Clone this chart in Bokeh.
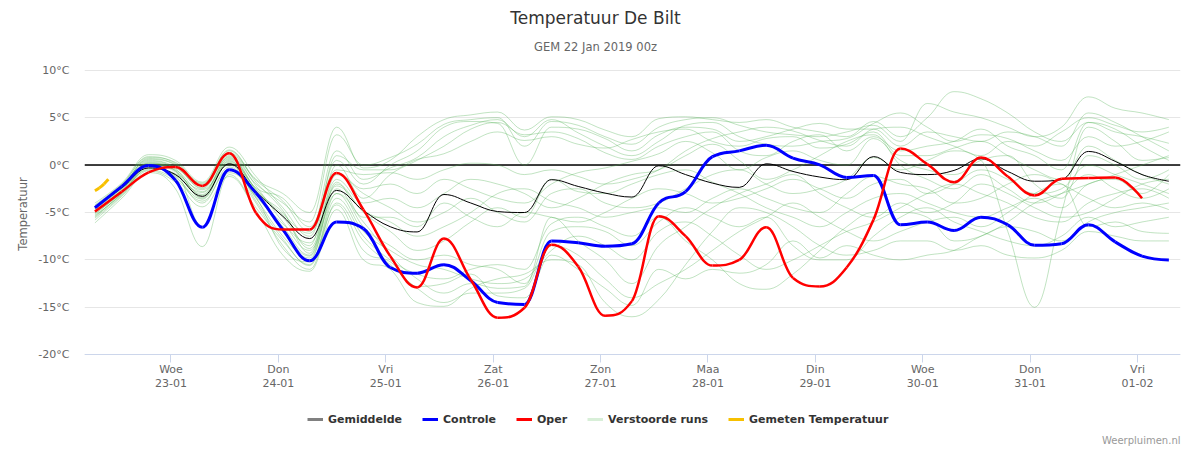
import math
from bokeh.plotting import figure
from bokeh.models import (Range1d, FixedTicker, PrintfTickFormatter, Span, Label,
                          Legend, LegendItem, Title)
from bokeh.embed import file_html
from bokeh.resources import INLINE

FONT = "DejaVu Sans"

# time axis: hours relative to Wed 23-01 00:00
hours = [-17, -11, -5, 1, 7, 13, 19, 25, 31, 37, 43, 49, 55, 61, 67, 73, 79, 85, 91, 97,
         103, 109, 115, 121, 127, 133, 139, 145, 151, 157, 163, 169, 175, 181, 187, 193,
         199, 205, 211, 217, 223]
oper_hours = hours[:40]

day_ticks = [0, 24, 48, 72, 96, 120, 144, 168, 192, 216]
day_labels = ["Woe\n23-01", "Don\n24-01", "Vri\n25-01", "Zat\n26-01", "Zon\n27-01",
              "Maa\n28-01", "Din\n29-01", "Woe\n30-01", "Don\n31-01", "Vri\n01-02"]
temp_ticks = [-20, -15, -10, -5, 0, 5, 10]

gemiddelde = [-4.5, -2.4, -0.3, -1.0, -3.3, 0.14, -2.8, -5.4, -7.75, -2.67, -4.8,
              -6.5, -7.05, -3.1, -4.0, -4.9, -5.0, -1.54, -2.25, -2.95, -3.37,
              -0.07, -1.0, -1.9, -2.35, 0.14, -0.67, -1.26, -1.54, 0.9, -0.77,
              -1.0, -0.56, 0.67, -0.67, -1.7, -1.54, 1.44, 0.4, -1.0, -1.7]
controle = [-4.5, -2.25, -0.05, -1.6, -6.56, -0.5, -2.95, -6.8, -10.1, -6.0, -6.7,
            -10.8, -11.4, -10.5, -12.2, -14.5, -14.7, -8.0, -8.2, -8.56, -8.3,
            -4.0, -2.8, 0.9, 1.5, 2.1, 0.74, 0.03, -1.3, -1.1, -6.3,
            -6.0, -6.9, -5.5, -6.3, -8.46, -8.3, -6.3, -8.1, -9.6, -10.0]
oper = [-4.9, -2.8, -0.77, -0.2, -2.2, 1.26, -5.05, -6.8, -6.8, -0.84, -4.7,
        -9.6, -12.9, -7.75, -12.1, -16.1, -15.05, -8.4, -10.7, -15.9, -14.35,
        -5.4, -7.5, -10.6, -10.0, -6.56, -11.9, -12.8, -10.8, -5.75, 1.75,
        0.1, -1.8, 0.8, -1.2, -3.2, -1.44, -1.37, -1.3, -3.5]

gemeten_hours = [-17, -16, -15, -14]
gemeten = [-2.7, -2.4, -2.0, -1.5]

run01 = [-4.2, -2.0, 0.8, 0.3, -2.0, 1.5, -1.5, -3.0, -5.0, 4.0, -0.3,
         0.5, 3.0, 4.8, 5.3, 5.6, 3.7, 5.1, 4.8, 3.7, 3.0,
         4.9, 5.1, 4.8, 4.5, 4.8, 4.0, 3.5, 3.0, 4.6, 3.0,
         5.0, 7.75, 7.0, 5.5, 3.5, 2.5, 4.5, 3.5, 3.0, 2.3]
run02 = [-4.5, -2.3, 0.6, 0.0, -2.5, 1.0, -2.0, -4.0, -6.0, 3.2, 0.0,
         0.8, 2.2, 4.3, 4.8, 5.0, 2.0, 4.6, 4.2, 3.0, 2.2,
         4.0, 4.8, 5.0, 4.2, 3.5, 3.2, 3.0, 3.5, 4.2, 2.5,
         6.5, 5.6, 5.0, 4.0, 3.0, 4.0, 7.2, 6.0, 5.5, 4.8]
run03 = [-5.0, -2.7, 0.2, -0.6, -3.2, 0.4, -2.6, -5.5, -8.5, 1.0, -0.5,
         -0.5, 0.6, 1.2, 2.5, 3.5, 2.6, 3.0, 2.2, 1.8, 2.7,
         3.5, 3.8, 2.5, 2.0, 2.8, 3.0, 1.8, 2.2, 3.5, 1.0,
         1.0, 1.8, 2.5, 1.0, -0.5, -1.5, 2.0, 0.5, -1.0, -2.0]
run04 = [-5.5, -3.0, -0.3, -1.2, -4.0, -0.2, -3.3, -6.5, -9.5, -1.0, -3.0,
         -4.5, -6.0, -5.0, -3.5, -5.0, -6.0, -3.0, -2.5, -4.0, -4.5,
         -4.0, -2.5, -1.0, -0.5, -2.0, -3.0, -2.5, -1.5, 0.8, -0.5,
         0.5, 1.5, 0.5, -7.0, -15.0, -5.0, 4.0, 2.5, 0.5, 0.8]
run05 = [-4.0, -1.9, 1.1, 0.5, -1.8, 1.9, -1.2, -4.5, -7.5, 0.5, -2.0,
         0.0, 1.5, 4.0, 4.6, 4.4, 0.0, 4.0, 3.8, 2.8, 1.5,
         3.2, 4.0, 3.8, 2.5, 3.0, 3.8, 4.4, 3.8, 3.8, 2.0,
         3.5, 3.0, 2.5, 3.5, 3.0, 2.0, 5.5, 4.5, 3.0, 1.5]
run06 = [-6.1, -3.5, -0.8, -2.5, -8.6, -1.0, -4.5, -8.0, -10.5, -3.0, -6.0,
         -9.5, -12.0, -13.5, -12.5, -13.0, -12.8, -5.5, -8.0, -10.0, -12.5,
         -8.5, -6.5, -4.5, -3.0, -2.0, -1.0, -3.0, -4.5, -5.5, -4.0,
         -5.0, -4.0, -2.0, -3.0, -4.5, -5.5, -5.0, -3.5, -2.0, -1.5]
run07 = [-4.7, -2.5, 0.0, -0.5, -2.8, 0.6, -3.0, -7.0, -10.0, -2.0, -5.0,
         -7.0, -9.0, -8.0, -6.0, -4.5, -5.5, -1.5, -2.8, -3.0, -2.0,
         -1.0, -0.5, -1.8, -3.0, -4.5, -5.5, -6.5, -5.0, -3.5, -3.0,
         -4.0, -5.0, -5.5, -4.5, -3.5, -4.5, -2.0, -1.5, -3.0, -1.0]
run08 = [-5.2, -2.9, -0.5, -1.5, -3.8, -0.5, -4.0, -8.5, -11.0, -4.0, -8.0,
         -10.5, -13.0, -14.5, -13.5, -13.5, -13.0, -8.5, -9.5, -12.0, -14.0,
         -12.5, -11.0, -9.0, -7.0, -5.5, -4.0, -5.5, -7.0, -8.0, -7.0,
         -6.0, -5.5, -6.5, -5.0, -3.0, -2.0, -6.5, -6.0, -7.0, -7.2]
run09 = [-4.4, -2.2, 0.5, -0.2, -2.4, 1.2, -2.2, -6.0, -9.0, -3.0, -7.0,
         -9.0, -10.5, -11.0, -12.0, -12.5, -12.0, -9.0, -7.5, -8.5, -10.0,
         -7.0, -6.0, -7.5, -9.5, -11.0, -10.0, -8.5, -7.0, -6.0, -4.5,
         -3.0, -2.0, -3.0, -4.0, -5.5, -6.0, -4.0, -3.0, -2.5, -3.5]
run10 = [-5.8, -3.3, -0.6, -1.8, -4.4, -1.2, -4.8, -9.5, -11.2, -4.7, -10.0,
         -11.0, -14.5, -14.9, -13.0, -12.0, -11.5, -10.0, -10.5, -14.5, -16.0,
         -14.2, -10.5, -7.0, -4.5, -5.0, -6.5, -8.5, -9.5, -9.0, -8.0,
         -8.0, -9.0, -8.5, -9.5, -9.8, -9.0, -7.0, -7.5, -8.0, -8.0]
run11 = [-4.9, -2.6, 0.3, -0.3, -2.2, 0.8, -2.4, -3.5, -6.5, -0.5, -1.0,
         -0.8, -1.5, -0.5, 0.2, 0.0, -1.0, -0.5, -1.2, -2.0, -1.5,
         -0.5, 1.5, 2.8, 3.5, 4.0, 3.6, 2.6, 2.0, 3.8, 4.0,
         3.0, 2.0, 1.0, 2.5, 2.0, 3.5, 5.0, 4.2, 3.5, 4.0]
run12 = [-4.6, -2.4, 0.4, -0.4, -3.5, 0.2, -3.5, -7.5, -9.8, -2.5, -6.5,
         -8.5, -10.0, -9.5, -10.5, -11.0, -12.5, -7.0, -6.5, -7.0, -8.5,
         -6.0, -4.5, -5.5, -6.5, -5.5, -8.5, -10.0, -10.0, -7.5, -5.5,
         -4.5, -6.0, -7.0, -8.0, -8.5, -7.5, -5.5, -6.5, -6.0, -5.5]
run13 = [-5.3, -3.1, -0.2, -0.9, -2.6, 0.0, -2.9, -5.0, -8.8, -1.5, -4.0,
         -3.5, -4.5, -3.0, -1.5, -2.0, -3.0, -4.5, -3.5, -2.0, -1.0,
         -0.5, 1.0, 2.2, 0.5, -1.5, -0.5, 1.0, 2.5, 3.2, 0.0,
         -1.5, -2.5, -1.0, -2.5, -4.0, -3.0, -1.0, -2.5, -3.5, -2.5]
run14 = [-4.3, -2.1, 0.9, 0.2, -2.1, 1.6, -1.8, -4.8, -9.3, 0.0, -3.5,
         -1.0, 0.5, 2.0, 3.8, 4.5, 3.2, 3.5, 2.8, 1.3, 0.6,
         2.0, 3.0, 3.5, 1.5, 1.0, 2.5, 3.2, 1.5, 3.0, 1.5,
         2.0, 2.5, 3.8, 2.0, 1.0, -0.5, 4.5, 3.8, 2.0, 0.5]
run15 = [-5.6, -3.2, -0.4, -1.0, -3.4, 0.5, -3.8, -7.8, -10.6, -3.5, -7.5,
         -10.0, -11.5, -12.0, -11.0, -10.5, -11.0, -6.2, -5.5, -6.5, -7.5,
         -5.5, -8.0, -10.0, -12.5, -13.1, -11.5, -9.0, -6.5, -5.0, -5.0,
         -5.5, -8.0, -7.5, -6.0, -4.0, -3.0, -2.0, -1.0, 0.0, 1.0]
run16 = [-5.0, -2.8, 0.1, -0.7, -3.1, 0.9, -2.7, -6.8, -9.6, -1.8, -5.5,
         -5.5, -6.5, -4.0, -5.5, -6.5, -5.0, -5.5, -6.0, -5.0, -3.5,
         -2.5, -3.0, -4.0, -3.5, -2.5, -1.5, -2.5, -3.5, -2.0, -1.5,
         -3.0, -2.0, -0.5, -1.5, -3.0, -2.5, 0.0, -1.0, -2.0, -3.0]
run17 = [-4.6, -2.4, 0.7, 0.1, -1.9, 1.3, -1.6, -3.8, -7.0, 1.5, -1.5,
         -0.3, 0.8, 3.0, 4.2, 4.8, 3.0, 4.8, 3.4, 2.0, 1.0,
         2.5, 4.2, 4.5, 3.0, 2.2, 2.0, 2.5, 2.8, 4.4, 5.5,
         4.0, 2.5, 3.2, 2.8, 1.5, 0.5, 3.0, 2.0, 2.5, 3.5]
run18 = [-5.4, -3.0, -0.1, -1.3, -3.6, 0.3, -3.1, -6.2, -8.2, -2.2, -4.8,
         -6.0, -7.5, -6.5, -5.0, -3.0, -2.5, -3.8, -4.5, -5.5, -5.0,
         -4.5, -5.0, -3.5, -2.5, -3.5, -4.5, -5.0, -3.0, -1.2, -2.0,
         -2.5, -4.0, -3.5, -2.0, -1.0, -2.0, -3.5, -4.5, -4.0, -4.7]
run19 = [-4.8, -2.6, 0.2, -0.6, -6.5, -0.8, -3.4, -8.8, -10.2, -4.2, -9.0,
         -10.2, -12.8, -12.5, -11.5, -13.8, -14.0, -9.5, -11.0, -13.0, -14.8,
         -11.0, -12.0, -11.0, -11.4, -10.5, -8.0, -9.8, -8.5, -9.5, -10.0,
         -9.5, -9.0, -7.5, -6.5, -7.0, -8.0, -6.0, -5.0, -4.5, -4.0]
run20 = [-5.1, -2.9, 0.0, -1.1, -2.9, 0.7, -2.5, -5.2, -7.2, -0.8, -2.5,
         -2.0, -3.0, -1.5, -2.5, -3.5, -4.0, -2.0, -0.8, -0.3, 0.4,
         1.2, 2.5, 1.3, -0.5, 0.8, 1.5, 0.5, 0.0, 2.8, 0.5,
         -0.5, -1.0, 0.5, 1.0, -2.0, -3.5, 1.0, 0.0, -1.5, -0.5]
verstoorde_runs = [run01, run02, run03, run04, run05, run06, run07, run08, run09, run10,
                   run11, run12, run13, run14, run15, run16, run17, run18, run19, run20]


def spline_segments(xs, ys, smoothing=1.5):
    """Bezier segments through the data points (same scheme as a 'spline' series)."""
    n = len(xs)
    lc = [(xs[i], ys[i]) for i in range(n)]
    rc = [(xs[i], ys[i]) for i in range(n)]
    denom = smoothing + 1
    for i in range(1, n - 1):
        px, py = xs[i], ys[i]
        lx, ly = xs[i - 1], ys[i - 1]
        nx, ny = xs[i + 1], ys[i + 1]
        lcx = (smoothing * px + lx) / denom
        lcy = (smoothing * py + ly) / denom
        rcx = (smoothing * px + nx) / denom
        rcy = (smoothing * py + ny) / denom
        corr = 0.0
        if rcx != lcx:
            corr = (rcy - lcy) * (rcx - px) / (rcx - lcx) + py - rcy
        lcy += corr
        rcy += corr
        if lcy > ly and lcy > py:
            lcy = max(ly, py)
            rcy = 2 * py - lcy
        elif lcy < ly and lcy < py:
            lcy = min(ly, py)
            rcy = 2 * py - lcy
        if rcy > ny and rcy > py:
            rcy = max(ny, py)
            lcy = 2 * py - rcy
        elif rcy < ny and rcy < py:
            rcy = min(ny, py)
            lcy = 2 * py - rcy
        lc[i] = (lcx, lcy)
        rc[i] = (rcx, rcy)
    seg = dict(x0=[], y0=[], x1=[], y1=[], cx0=[], cy0=[], cx1=[], cy1=[])
    for i in range(1, n):
        seg["x0"].append(xs[i - 1]); seg["y0"].append(ys[i - 1])
        seg["x1"].append(xs[i]); seg["y1"].append(ys[i])
        seg["cx0"].append(rc[i - 1][0]); seg["cy0"].append(rc[i - 1][1])
        seg["cx1"].append(lc[i][0]); seg["cy1"].append(lc[i][1])
    return seg


def merge(segs):
    out = dict(x0=[], y0=[], x1=[], y1=[], cx0=[], cy0=[], cx1=[], cy1=[])
    for s in segs:
        for k in out:
            out[k].extend(s[k])
    return out


# frame: x 84..1180, y 0..428 on the canvas; 9.5 px per degree, -20 at y=355
p = figure(width=1190, height=450, output_backend="svg", toolbar_location=None,
           x_range=Range1d(-19.33, 225.6), y_range=Range1d(-27.684, 17.368),
           min_border_left=84, min_border_right=10, min_border_top=0, min_border_bottom=22,
           background_fill_color="white", border_fill_color="white")
p.outline_line_color = None

# x axis drawn at -20
p.xaxis.fixed_location = -20
p.xaxis.ticker = FixedTicker(ticks=day_ticks)
p.xaxis.major_label_overrides = {t: l for t, l in zip(day_ticks, day_labels)}
p.xaxis.axis_line_color = "#ccd6eb"
p.xaxis.major_tick_line_color = "#ccd6eb"
p.xaxis.major_tick_out = 8
p.xaxis.major_tick_in = 0
p.xaxis.minor_tick_line_color = None
p.xaxis.major_label_standoff = 0
p.xaxis.major_label_text_font = FONT
p.xaxis.major_label_text_font_size = "11px"
p.xaxis.major_label_text_line_height = 1.1
p.xaxis.major_label_text_color = "#666666"

p.yaxis.ticker = FixedTicker(ticks=temp_ticks)
p.yaxis.formatter = PrintfTickFormatter(format="%d°C")
p.yaxis.axis_line_color = None
p.yaxis.major_tick_line_color = None
p.yaxis.minor_tick_line_color = None
p.yaxis.major_tick_out = 0
p.yaxis.major_tick_in = 0
p.yaxis.major_label_standoff = 15
p.yaxis.major_label_text_font = FONT
p.yaxis.major_label_text_font_size = "11px"
p.yaxis.major_label_text_color = "#666666"
p.yaxis.axis_label = "Temperatuur"
p.yaxis.axis_label_standoff = 5
p.yaxis.axis_label_text_font = FONT
p.yaxis.axis_label_text_font_size = "11.5px"
p.yaxis.axis_label_text_font_style = "normal"
p.yaxis.axis_label_text_color = "#666666"

p.xgrid.visible = False
p.ygrid.grid_line_color = "#e6e6e6"
p.ygrid.grid_line_width = 1

p.add_layout(Span(location=0, dimension="width", line_color="black", line_width=1.5,
                  level="underlay"))

# series (smooth curves through the values)
ens = merge([spline_segments(hours, r) for r in verstoorde_runs])
p.bezier(**ens, line_color="#4caf50", line_alpha=0.35, line_width=1)
p.bezier(**spline_segments(hours, gemiddelde), line_color="black", line_width=1)
p.bezier(**spline_segments(hours, controle), line_color="#0000ff", line_width=3)
p.bezier(**spline_segments(oper_hours, oper), line_color="#ff0000", line_width=2.5)
p.bezier(**spline_segments(gemeten_hours, gemeten), line_color="#f7c000", line_width=3)

# legend symbols (renderers with a single NaN point: nothing drawn in the plot)
nan = [float("nan")]
leg_g = p.line(nan, nan, line_color="#808080", line_width=3)
leg_c = p.line(nan, nan, line_color="#0000ff", line_width=3)
leg_o = p.line(nan, nan, line_color="#ff0000", line_width=3)
leg_v = p.line(nan, nan, line_color="#d8efd8", line_width=3)
leg_m = p.line(nan, nan, line_color="#f7c000", line_width=3)
legend = Legend(items=[LegendItem(label="Gemiddelde", renderers=[leg_g]),
                       LegendItem(label="Controle", renderers=[leg_c]),
                       LegendItem(label="Oper", renderers=[leg_o]),
                       LegendItem(label="Verstoorde runs", renderers=[leg_v]),
                       LegendItem(label="Gemeten Temperatuur", renderers=[leg_m])],
                orientation="horizontal", location=(223, 1),
                glyph_width=16, glyph_height=14, label_standoff=5, spacing=20,
                padding=0, margin=0, border_line_alpha=0, background_fill_alpha=0,
                label_text_font=FONT, label_text_font_size="11px",
                label_text_font_style="bold", label_text_color="#333333")
p.add_layout(legend)

# title texts inside the (white) frame area above the 10°C line
p.add_layout(Label(x=511, y=410, x_units="screen", y_units="screen",
                   text="Temperatuur De Bilt", text_align="center", text_baseline="middle",
                   text_font=FONT, text_font_size="17px", text_color="#333333"))
p.add_layout(Label(x=511, y=381, x_units="screen", y_units="screen",
                   text="GEM 22 Jan 2019 00z", text_align="center", text_baseline="middle",
                   text_font=FONT, text_font_size="11.5px", text_color="#666666"))

p.add_layout(Title(text="Weerpluimen.nl", align="right", standoff=10,
                   text_font=FONT, text_font_size="10px", text_font_style="normal",
                   text_color="#999999"), "below")

open("out.html", "w").write(file_html(p, INLINE))
